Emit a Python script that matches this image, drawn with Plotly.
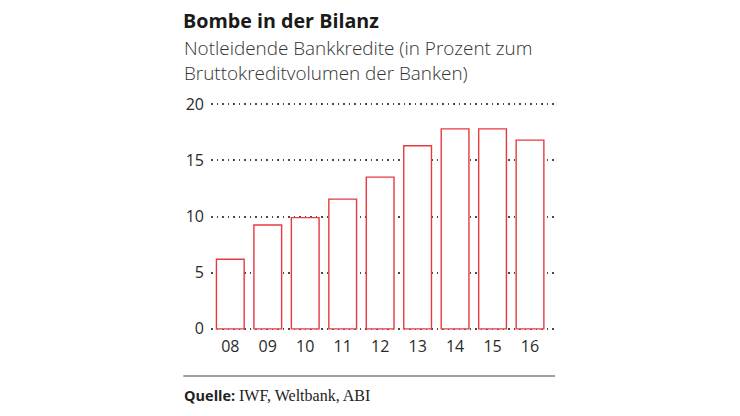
import plotly.graph_objects as go

jahre = ["08", "09", "10", "11", "12", "13", "14", "15", "16"]
quote = [6.2, 9.25, 9.9, 11.55, 13.5, 16.3, 17.8, 17.8, 16.8]
y_ticks = [0, 5, 10, 15, 20]

ROT = "#e63a41"
W, H = 740, 416
# Plotbereich in Pixeln (y-Achse etwas ueber 0..20 hinaus, damit Randlinien sichtbar bleiben)
L, R = 210.7, 555
T, B = 104 - 1.1, 329.3 + 1.1

def px_x(p):
    return (p - L) / (R - L)

def px_y(p):
    return (B - p) / (B - T)

fig = go.Figure()
fig.add_trace(go.Bar(
    x=list(range(len(jahre))),
    y=quote,
    marker=dict(color="white", line=dict(color=ROT, width=1.4)),
    width=0.74,
    hoverinfo="skip",
))

fig.update_layout(
    width=W, height=H, autosize=False,
    margin=dict(l=L, r=W - R, t=T, b=H - B, pad=0),
    paper_bgcolor="white", plot_bgcolor="white",
    showlegend=False,
    font=dict(family="Open Sans", color="#2a2a2a"),
    xaxis=dict(
        range=[-0.515, 8.667],
        tickmode="array",
        tickvals=list(range(len(jahre))),
        ticktext=jahre,
        showgrid=False, zeroline=False, showline=False,
        ticks="", ticklabelstandoff=5,
        tickfont=dict(size=16, color="#2a2a2a", family="Open Sans", weight=400),
    ),
    yaxis=dict(
        range=[-0.1, 20.1],
        tickvals=y_ticks,
        showgrid=True, gridcolor="#4a4a4a", griddash="1.5px,4px", gridwidth=1.5,
        zeroline=False, showline=False, ticks="",
        ticklabelstandoff=6,
        tickfont=dict(size=16, color="#2a2a2a", family="Open Sans", weight=400),
    ),
)

fig.add_annotation(
    text="<b>Bombe in der Bilanz</b>", xref="paper", yref="paper",
    x=px_x(181), y=px_y(20.5), xanchor="left", yanchor="middle", showarrow=False,
    font=dict(size=19.7, color="#1a1a1a", family="Open Sans", weight=800),
)
fig.add_annotation(
    text="Notleidende Bankkredite (in Prozent zum<br>Bruttokreditvolumen der Banken)",
    xref="paper", yref="paper", x=px_x(182), y=px_y(60.5),
    xanchor="left", yanchor="middle", align="left", showarrow=False,
    font=dict(size=18.9, color="#333333", family="Open Sans", weight=300),
)
fig.add_shape(
    type="line", xref="paper", yref="paper",
    x0=px_x(183), x1=px_x(555), y0=px_y(376.5), y1=px_y(376.5),
    line=dict(color="#444444", width=1.2),
)
fig.add_annotation(
    text="<b>Quelle:</b> <span style='font-family:Liberation Serif;font-size:16px'>IWF, Weltbank, ABI</span>",
    xref="paper", yref="paper", x=px_x(182), y=px_y(396),
    xanchor="left", yanchor="middle", showarrow=False,
    font=dict(size=14.5, color="#222222", family="Open Sans"),
)

fig.write_html("out.html", config={"displayModeBar": False},
               post_script="document.body.style.margin='0';")
